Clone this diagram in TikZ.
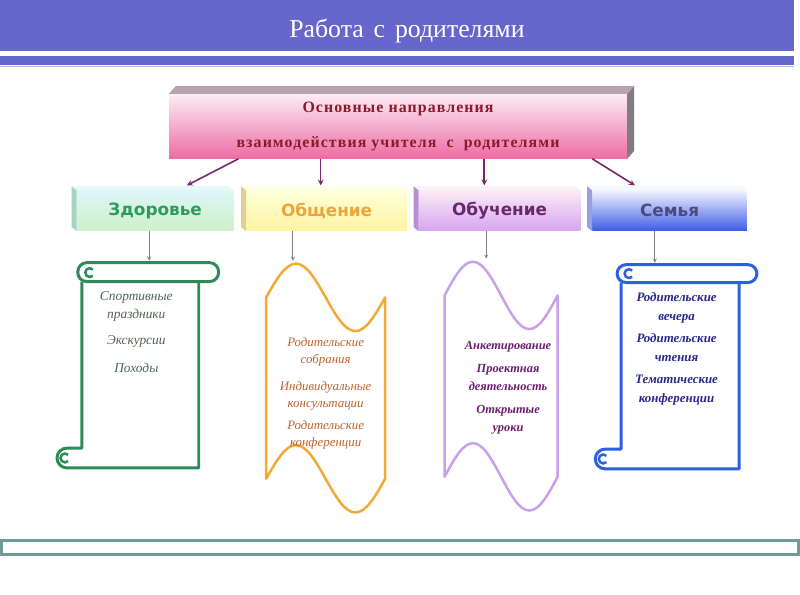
\documentclass[tikz,border=0pt]{standalone}
\usepackage{fontspec}
\setmainfont{Liberation Serif}
\newfontfamily\catfont{DejaVu Sans}
\usetikzlibrary{arrows,calc}

\definecolor{headblue}{RGB}{102,102,204}
\definecolor{footteal}{RGB}{111,154,154}
\definecolor{pinktop}{RGB}{252,236,244}
\definecolor{pinkmid}{RGB}{246,182,212}
\definecolor{pinkbot}{RGB}{236,108,164}
\definecolor{topgray}{RGB}{184,164,174}
\definecolor{sidegray}{RGB}{128,124,128}
\definecolor{textred}{RGB}{140,26,42}
\definecolor{arrpurple}{RGB}{120,40,100}
% categories
\definecolor{hTop}{RGB}{222,246,248}
\definecolor{hBot}{RGB}{205,240,200}
\definecolor{hSide}{RGB}{165,212,192}
\definecolor{hText}{RGB}{46,155,92}
\definecolor{cTop}{RGB}{255,255,218}
\definecolor{cBot}{RGB}{255,244,160}
\definecolor{cSide}{RGB}{226,208,146}
\definecolor{cText}{RGB}{236,165,60}
\definecolor{sTop}{RGB}{250,236,246}
\definecolor{sBot}{RGB}{214,164,240}
\definecolor{sSide}{RGB}{186,142,212}
\definecolor{sText}{RGB}{105,40,110}
\definecolor{fTop}{RGB}{242,244,255}
\definecolor{fBot}{RGB}{60,92,230}
\definecolor{fSide}{RGB}{150,160,222}
\definecolor{fText}{RGB}{75,75,125}
% scrolls
\definecolor{greenline}{RGB}{46,139,87}
\definecolor{greentext}{RGB}{80,100,85}
\definecolor{orangeline}{RGB}{243,169,53}
\definecolor{orangetext}{RGB}{190,100,45}
\definecolor{violetline}{RGB}{200,160,235}
\definecolor{violettext}{RGB}{110,30,110}
\definecolor{blueline}{RGB}{45,95,225}
\definecolor{bluetext}{RGB}{40,40,140}

\tikzset{
  mainbox/.style={minimum width=462pt, minimum height=65pt, inner sep=0pt, align=center,
    top color=pinktop, middle color=pinkmid, bottom color=pinkbot, text=textred,
    font=\bfseries\fontsize{16}{36}\selectfont\addfontfeature{LetterSpace=7}},
  catbox/.style={minimum height=41pt, inner sep=0pt, font=\catfont\bfseries\fontsize{17}{20}\selectfont},
  navarr/.style={-stealth, line width=1.6pt, color=arrpurple},
  downarr/.style={-stealth, line width=0.9pt, color=gray},
  scrollline/.style={line width=3pt, fill=white, line join=round},
  waveline/.style={line width=2.5pt, fill=white, line join=round},
  scrolltxt/.style={align=center, inner sep=0pt}
}

\begin{document}
\begin{tikzpicture}[x=1pt,y=-1pt]
  \fill[white] (0,0) rectangle (800,600);
  % header
  \fill[headblue] (0,0) rectangle (800,51);
  \fill[headblue] (0,56) rectangle (800,66);
  \draw[headblue!45, line width=1pt] (0,67.5) -- (800,67.5);
  \node[text=white, font=\fontsize{26}{30}\selectfont] (title) at (410,31) {Работа\hspace{10pt}с\hspace{10pt}родителями};
  % footer
  \draw[footteal, line width=3pt] (1.5,545.5) rectangle (805,559);

  % main box
  \node[mainbox] (main) at (401,127.5) {Основные направления\\взаимодействия учителя~~с~~родителями};
  \fill[topgray] (main.north west) -- ([shift={(7,-8)}]main.north west) -- ([shift={(7,-8)}]main.north east) -- (main.north east) -- cycle;
  \fill[sidegray] (main.north east) -- ([shift={(7,-8)}]main.north east) -- ([shift={(7,-8)}]main.south east) -- (main.south east) -- cycle;

  % categories
  \node[catbox, minimum width=158pt, top color=hTop, bottom color=hBot, text=hText] (health) at (156,212.5) {Здоровье};
  \node[catbox, minimum width=162pt, top color=cTop, bottom color=cBot, text=cText] (comm) at (329,212.5) {Общение};
  \node[catbox, minimum width=163pt, top color=sTop, bottom color=sBot, text=sText] (study) at (503.5,212.5) {Обучение};
  \node[catbox, minimum width=156pt, top color=fTop, bottom color=fBot, text=fText] (family) at (675,212.5) {Семья};
  \fill[hSide] (health.north west) -- ([shift={(-5,-4)}]health.north west) -- ([shift={(-5,-4)}]health.south west) -- (health.south west) -- cycle;
  \fill[hTop!70!white] (health.north west) -- ([shift={(-5,-4)}]health.north west) -- ([shift={(-5,-4)}]health.north east) -- (health.north east) -- cycle;
  \fill[cSide] (comm.north west) -- ([shift={(-5,-4)}]comm.north west) -- ([shift={(-5,-4)}]comm.south west) -- (comm.south west) -- cycle;
  \fill[cTop!70!white] (comm.north west) -- ([shift={(-5,-4)}]comm.north west) -- ([shift={(-5,-4)}]comm.north east) -- (comm.north east) -- cycle;
  \fill[sSide] (study.north west) -- ([shift={(-5,-4)}]study.north west) -- ([shift={(-5,-4)}]study.south west) -- (study.south west) -- cycle;
  \fill[sTop!70!white] (study.north west) -- ([shift={(-5,-4)}]study.north west) -- ([shift={(-5,-4)}]study.north east) -- (study.north east) -- cycle;
  \fill[fSide] (family.north west) -- ([shift={(-5,-4)}]family.north west) -- ([shift={(-5,-4)}]family.south west) -- (family.south west) -- cycle;
  \fill[fTop!70!white] (family.north west) -- ([shift={(-5,-4)}]family.north west) -- ([shift={(-5,-4)}]family.north east) -- (family.north east) -- cycle;

  % arrows from the main box
  \coordinate (aHealth) at (188,187);
  \coordinate (aComm) at (323,187);
  \coordinate (aStudy) at (488,187);
  \coordinate (aFamily) at (640,187);
  \path[navarr]
    ([xshift=-161pt]main.south) edge (aHealth)
    ([xshift=-78pt]main.south) edge (aComm)
    ([xshift=87pt]main.south) edge (aStudy)
    ([xshift=196pt]main.south) edge (aFamily);

  % green scroll
  \draw[scrollline, draw=greenline] (82,284) -- (82,452) -- (67,452) arc[start angle=-90, end angle=-270, radius=10] -- (200,472) -- (200,284);
  \draw[scrollline, draw=greenline, rounded corners=9] (78,265) rectangle (220,284);
  \draw[greenline, line width=2.5pt] (93.2,271.8) arc[start angle=-45, end angle=-315, radius=4.5];
  \draw[greenline, line width=2.5pt] (68.2,458.8) arc[start angle=-45, end angle=-315, radius=4.5];
  % blue scroll
  \draw[scrollline, draw=blueline] (626,285) -- (626,453) -- (610,453) arc[start angle=-90, end angle=-270, radius=10] -- (745,473) -- (745,285);
  \draw[scrollline, draw=blueline, rounded corners=9] (622,267) rectangle (763,285);
  \draw[blueline, line width=2.5pt] (637.2,272.8) arc[start angle=-45, end angle=-315, radius=4.5];
  \draw[blueline, line width=2.5pt] (611.2,459.8) arc[start angle=-45, end angle=-315, radius=4.5];
  % orange wave
  \draw[waveline, draw=orangeline] (268,300) sin (298,266) cos (328,300) sin (358,334) cos (388,300)
    -- (388,483) sin (358,517) cos (328,483) sin (298,449) cos (268,483) -- cycle;
  % violet wave
  \draw[waveline, draw=violetline] (448,298) sin (476.5,264) cos (505,298) sin (533.5,332) cos (562,298)
    -- (562,481) sin (533.5,515) cos (505,481) sin (476.5,447) cos (448,481) -- cycle;

  % arrows down to the scrolls
  \coordinate (sHealth) at (150,263);
  \coordinate (sComm) at (295,263);
  \coordinate (sStudy) at (490,261);
  \coordinate (sFamily) at (660,265);
  \path[downarr]
    (health.south -| sHealth) edge (sHealth)
    (comm.south -| sComm) edge (sComm)
    (study.south -| sStudy) edge (sStudy)
    (family.south -| sFamily) edge (sFamily);

  % scroll texts
  \node[scrolltxt, text=greentext, font=\itshape\fontsize{13.5}{18}\selectfont] (tHealth) at (137,335)
    {Спортивные\\праздники\\[9pt]Экскурсии\\[10pt]Походы};
  \node[scrolltxt, text=orangetext, font=\itshape\fontsize{13}{17}\selectfont] (tComm) at (328,397)
    {Родительские\\собрания\\[10pt]Индивидуальные\\консультации\\[6pt]Родительские\\конференции};
  \node[scrolltxt, text=violettext, font=\bfseries\itshape\fontsize{12.5}{18}\selectfont] (tStudy) at (512,391)
    {Анкетирование\\[5pt]Проектная\\деятельность\\[5pt]Открытые\\уроки};
  \node[scrolltxt, text=bluetext, font=\bfseries\itshape\fontsize{13}{19}\selectfont] (tFamily) at (682,352)
    {Родительские\\вечера\\[3pt]Родительские\\чтения\\[3pt]Тематические\\конференции};
\end{tikzpicture}
\end{document}
